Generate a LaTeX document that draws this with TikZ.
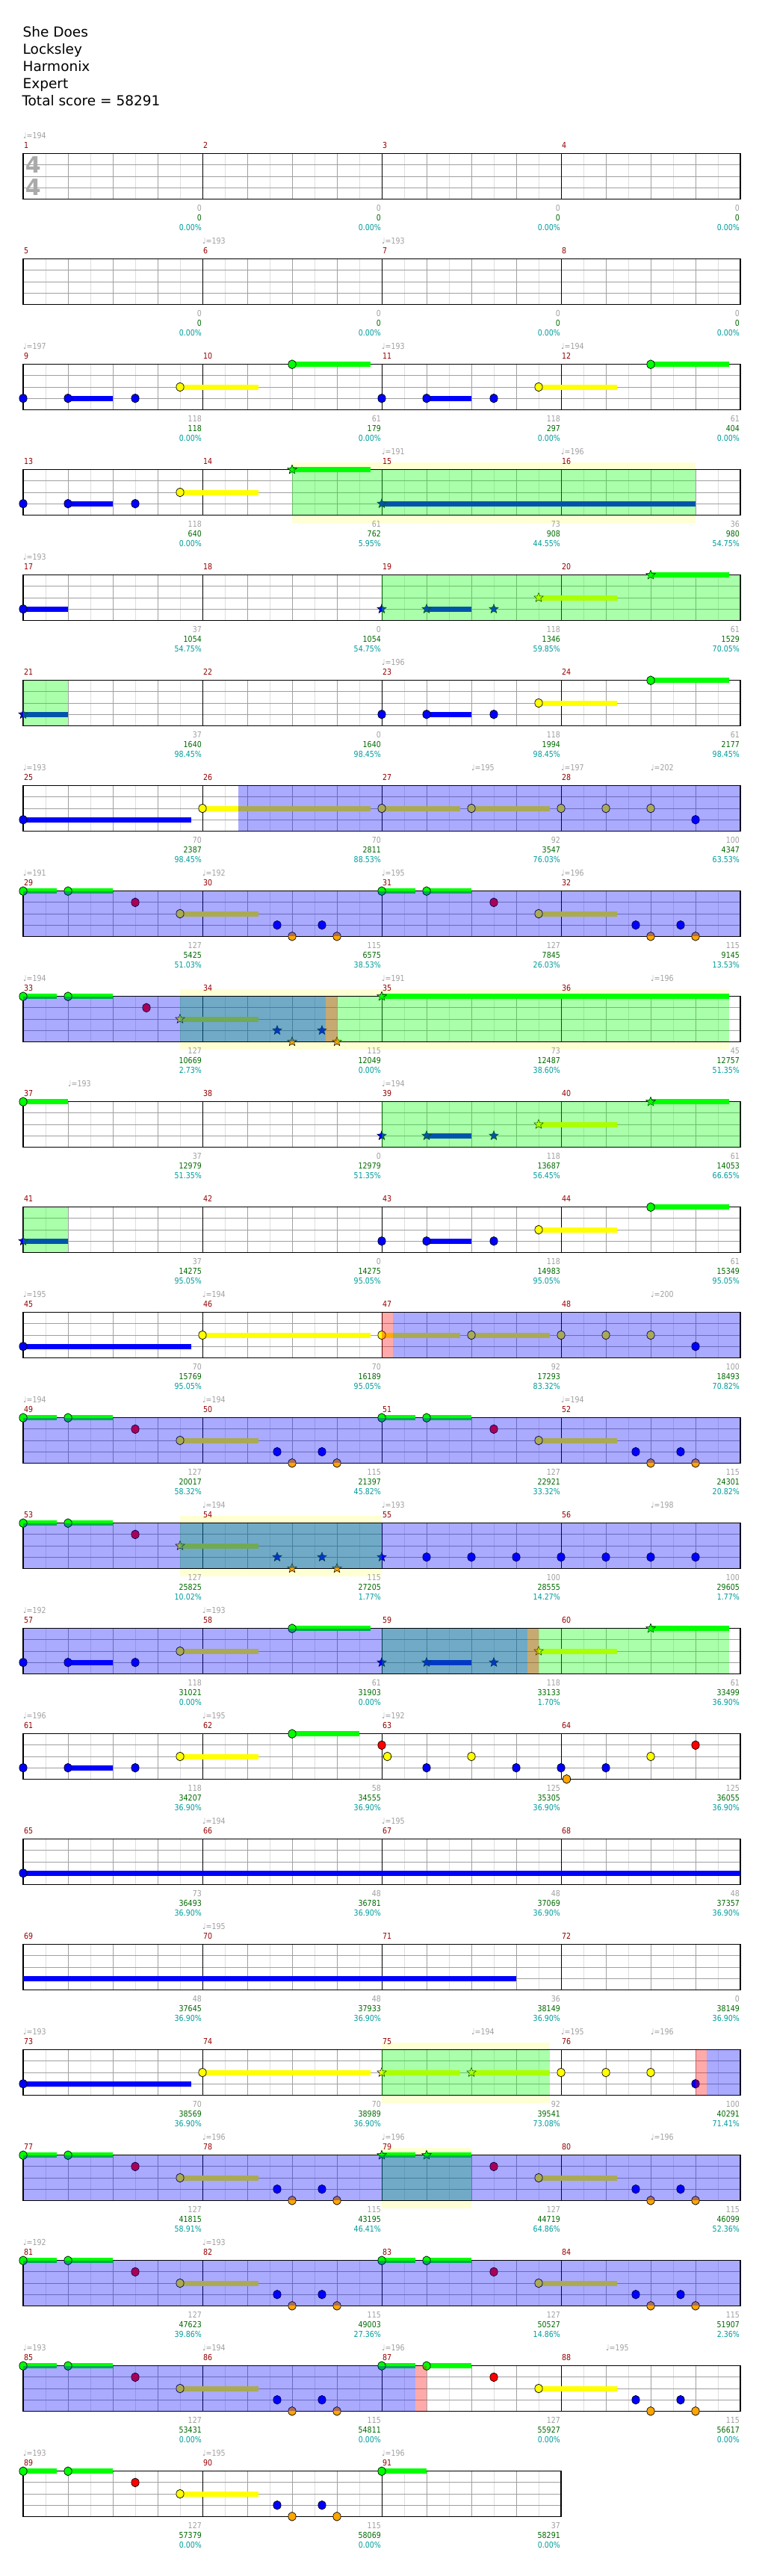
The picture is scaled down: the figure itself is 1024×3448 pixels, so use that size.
\documentclass[tikz,border=0pt]{standalone}
\usepackage{fontspec}
\setmainfont{DejaVu Sans}
\newfontfamily\lblfont{DejaVu Sans}[FakeStretch=0.86]
\usetikzlibrary{shapes.geometric}

\definecolor{barred}{RGB}{150,0,0}
\definecolor{lblgray}{RGB}{160,160,160}
\definecolor{lblgreen}{RGB}{0,105,0}
\definecolor{lblcyan}{RGB}{0,155,155}
\definecolor{gridgray}{RGB}{160,160,160}
\definecolor{gridlight}{RGB}{222,222,222}
\definecolor{hiyellow}{RGB}{255,255,212}
\definecolor{gemg}{RGB}{0,255,0}
\definecolor{gemr}{RGB}{255,0,0}
\definecolor{gemy}{RGB}{255,255,0}
\definecolor{gemb}{RGB}{0,0,255}
\definecolor{gemo}{RGB}{255,165,0}

% lanes: green, red, yellow, blue, orange
\def\laneg{0}\def\laner{1}\def\laney{2}\def\laneb{3}\def\laneo{4}
\newcounter{gemno}
\newcounter{bpmno}

% row r: staff top
\newcommand{\setrow}[1]{\def\rowno{#1}\pgfmathsetmacro{\rowtop}{205.7+141*#1}}
% staff of #1 bars, first bar number #2
\newcommand{\staff}[2]{%
  \pgfmathsetmacro{\staffw}{240*#1}%
  \pgfmathtruncatemacro{\lastq}{4*#1-1}%
  \pgfmathtruncatemacro{\lastbar}{#1-1}%
  \fill[white] (31,\rowtop) rectangle ++(\staffw,60.6);
  \foreach \e in {0,...,\lastq} \draw[eighthline] ({61+60*\e},\rowtop) -- ++(0,60.6);
  \foreach \k in {1,2,3} \draw[laneline] (31,{\rowtop+15.15*\k}) -- ++(\staffw,0);
  \foreach \e in {1,...,\lastq} \draw[beatline] ({31+60*\e},\rowtop) -- ++(0,60.6);
  \foreach \m in {1,...,\lastbar} \draw[barline] ({31+240*\m},\rowtop) -- ++(0,60.6);
  \draw[staffbox] (31,\rowtop) rectangle ++(\staffw,60.6);
  \foreach \m in {1,...,#1}{%
    \pgfmathtruncatemacro{\bn}{#2+\m-1}%
    \node[barno] (bar\bn) at ({31+240*(\m-1)},{\rowtop-7.7}) {\bn};}%
}
\newcommand{\gem}[2]{\stepcounter{gemno}%
  \pgfmathsetmacro{\gy}{\rowtop+15.15*\csname lane#1\endcsname}%
  \node[gem,fill=gem#1] (gem\arabic{gemno}) at ({31+30*(#2)},\gy) {};}
\newcommand{\sgem}[2]{\stepcounter{gemno}%
  \pgfmathsetmacro{\gy}{\rowtop+15.15*\csname lane#1\endcsname}%
  \node[stargem,fill=gem#1] (gem\arabic{gemno}) at ({31+30*(#2)},\gy) {};}
\newcommand{\sus}[3]{%
  \pgfmathsetmacro{\gy}{\rowtop+15.15*\csname lane#1\endcsname}%
  \fill[gem#1] ({31+30*(#2)},{\gy-3.5}) rectangle ({31+30*(#3)},{\gy+3.5});}
\newcommand{\od}[3]{\fill[#1,opacity=0.333] ({31+30*(#2)},\rowtop) rectangle ({31+30*(#3)},{\rowtop+60.6});}
\newcommand{\hilite}[2]{\fill[hiyellow] ({31+30*(#1)},{\rowtop-10}) rectangle ({31+30*(#2)},{\rowtop+71});}
\newcommand{\bpm}[2]{\stepcounter{bpmno}%
  \node[tempo] (bpm\arabic{bpmno}) at ({31+30*(#1)},{\rowtop-20.5}) {♩=#2};}
\newcommand{\pts}[4]{%
  \pgfmathtruncatemacro{\bn}{4*\rowno+#1}%
  \node[ptsgray] (pts\bn) at ({31+240*#1},{\rowtop+76.3}) {#2};
  \node[ptsgreen] (tot\bn) at ({31+240*#1},{\rowtop+89.6}) {#3};
  \node[ptscyan] (pct\bn) at ({31+240*#1},{\rowtop+102.7}) {#4\%};}

\begin{document}
\begin{tikzpicture}[x=1pt,y=-1pt,
    title/.style={anchor=base west,inner sep=0pt,font=\fontsize{18.5}{22}\selectfont},
    lbl/.style={inner sep=1pt,font=\lblfont\fontsize{11}{13}\selectfont},
    barno/.style={lbl,anchor=base west,text=barred},
    tempo/.style={lbl,anchor=base west,inner sep=0pt,text=lblgray},
    ptsgray/.style={lbl,anchor=base east,text=lblgray},
    ptsgreen/.style={lbl,anchor=base east,text=lblgreen},
    ptscyan/.style={lbl,anchor=base east,text=lblcyan},
    tsig/.style={inner sep=0pt,text=lblgray!90,font=\bfseries\fontsize{30}{30}\selectfont},
    eighthline/.style={gridlight,line width=1pt},
    beatline/.style={gridgray,line width=1pt},
    laneline/.style={gridgray,line width=1pt},
    barline/.style={black,line width=1pt},
    staffbox/.style={black,line width=1.3pt},
    gem/.style={ellipse,draw=black,line width=0.7pt,inner sep=0pt,
                minimum width=10.3pt,minimum height=11.7pt},
    stargem/.style={star,star points=5,star point ratio=2.3,draw=black,
                line width=0.5pt,inner sep=0pt,minimum size=13pt}]
\fill[white] (0,0) rectangle (1024,3448);
\useasboundingbox (0,0) rectangle (1024,3448);

\node[title] (song) at (30.5,49.3) {She Does};
\node[title] (artist) at (30.5,72.3) {Locksley};
\node[title] (charter) at (30.5,95.3) {Harmonix};
\node[title] (level) at (30.5,118.3) {Expert};
\node[title] (total) at (29.3,141.3) {Total score = 58291};

% bars 1-4
\setrow{0}
\staff{4}{1}
\bpm{0}{194}
\node[tsig] (tsigup) at (44.3,{\rowtop+15}) {4};
\node[tsig] (tsigdown) at (44.3,{\rowtop+45}) {4};
\pts{1}{0}{0}{0.00}\pts{2}{0}{0}{0.00}\pts{3}{0}{0}{0.00}\pts{4}{0}{0}{0.00}

% bars 5-8
\setrow{1}
\staff{4}{5}
\bpm{8}{193}\bpm{16}{193}
\pts{1}{0}{0}{0.00}\pts{2}{0}{0}{0.00}\pts{3}{0}{0}{0.00}\pts{4}{0}{0}{0.00}

% bars 9-12
\setrow{2}
\staff{4}{9}
\bpm{0}{197}\bpm{16}{193}\bpm{24}{194}
\sus{b}{2}{4}\sus{y}{7}{10.5}\sus{g}{12}{15.5}
\sus{b}{18}{20}\sus{y}{23}{26.5}\sus{g}{28}{31.5}
\gem{b}{0}\gem{b}{2}\gem{b}{5}\gem{y}{7}\gem{g}{12}
\gem{b}{16}\gem{b}{18}\gem{b}{21}\gem{y}{23}\gem{g}{28}
\pts{1}{118}{118}{0.00}\pts{2}{61}{179}{0.00}\pts{3}{118}{297}{0.00}\pts{4}{61}{404}{0.00}

% bars 13-16
\setrow{3}
\hilite{12}{30}
\staff{4}{13}
\bpm{16}{191}\bpm{24}{196}
\sus{b}{2}{4}\sus{y}{7}{10.5}\sus{g}{12}{15.5}\sus{b}{16}{30}
\gem{b}{0}\gem{b}{2}\gem{b}{5}\gem{y}{7}\sgem{g}{12}\sgem{b}{16}
\od{green}{12}{30}
\pts{1}{118}{640}{0.00}\pts{2}{61}{762}{5.95}\pts{3}{73}{908}{44.55}\pts{4}{36}{980}{54.75}

% bars 17-20
\setrow{4}
\staff{4}{17}
\bpm{0}{193}
\sus{b}{0}{2}\sus{b}{18}{20}\sus{y}{23}{26.5}\sus{g}{28}{31.5}
\gem{b}{0}\sgem{b}{16}\sgem{b}{18}\sgem{b}{21}\sgem{y}{23}\sgem{g}{28}
\od{green}{16}{32}
\pts{1}{37}{1054}{54.75}\pts{2}{0}{1054}{54.75}\pts{3}{118}{1346}{59.85}\pts{4}{61}{1529}{70.05}

% bars 21-24
\setrow{5}
\staff{4}{21}
\bpm{16}{196}
\sus{b}{0}{2}\sus{b}{18}{20}\sus{y}{23}{26.5}\sus{g}{28}{31.5}
\sgem{b}{0}\gem{b}{16}\gem{b}{18}\gem{b}{21}\gem{y}{23}\gem{g}{28}
\od{green}{0}{2}
\pts{1}{37}{1640}{98.45}\pts{2}{0}{1640}{98.45}\pts{3}{118}{1994}{98.45}\pts{4}{61}{2177}{98.45}

% bars 25-28
\setrow{6}
\staff{4}{25}
\bpm{0}{193}\bpm{20}{195}\bpm{24}{197}\bpm{28}{202}
\sus{b}{0}{7.5}\sus{y}{8}{15.5}\sus{y}{16}{19.5}\sus{y}{20}{23.5}
\gem{b}{0}\gem{y}{8}\gem{y}{16}\gem{y}{20}\gem{y}{24}\gem{y}{26}\gem{y}{28}\gem{b}{30}
\od{blue}{9.6}{32}
\pts{1}{70}{2387}{98.45}\pts{2}{70}{2811}{88.53}\pts{3}{92}{3547}{76.03}\pts{4}{100}{4347}{63.53}

% bars 29-32
\setrow{7}
\staff{4}{29}
\bpm{0}{191}\bpm{8}{192}\bpm{16}{195}\bpm{24}{196}
\sus{g}{0}{1.5}\sus{g}{2}{4}\sus{y}{7}{10.5}\sus{g}{16}{17.5}\sus{g}{18}{20}\sus{y}{23}{26.5}
\gem{g}{0}\gem{g}{2}\gem{r}{5}\gem{y}{7}\gem{b}{11.333}\gem{o}{12}\gem{b}{13.333}\gem{o}{14}
\gem{g}{16}\gem{g}{18}\gem{r}{21}\gem{y}{23}\gem{b}{27.333}\gem{o}{28}\gem{b}{29.333}\gem{o}{30}
\od{blue}{0}{32}
\pts{1}{127}{5425}{51.03}\pts{2}{115}{6575}{38.53}\pts{3}{127}{7845}{26.03}\pts{4}{115}{9145}{13.53}

% bars 33-36
\setrow{8}
\hilite{7}{31.5}
\staff{4}{33}
\bpm{0}{194}\bpm{16}{191}\bpm{28}{196}
\sus{g}{0}{1.5}\sus{g}{2}{4}\sus{y}{7}{10.5}\sus{g}{16}{31.5}
\gem{g}{0}\gem{g}{2}\gem{r}{5.5}\sgem{y}{7}\sgem{b}{11.333}\sgem{o}{12}\sgem{b}{13.333}\sgem{o}{14}
\sgem{g}{16}
\od{green}{7}{31.5}\od{blue}{0}{13.5}\od{red}{13.5}{14}
\pts{1}{127}{10669}{2.73}\pts{2}{115}{12049}{0.00}\pts{3}{73}{12487}{38.60}\pts{4}{45}{12757}{51.35}

% bars 37-40
\setrow{9}
\staff{4}{37}
\bpm{2}{193}\bpm{16}{194}
\sus{g}{0}{2}\sus{b}{18}{20}\sus{y}{23}{26.5}\sus{g}{28}{31.5}
\gem{g}{0}\sgem{b}{16}\sgem{b}{18}\sgem{b}{21}\sgem{y}{23}\sgem{g}{28}
\od{green}{16}{32}
\pts{1}{37}{12979}{51.35}\pts{2}{0}{12979}{51.35}\pts{3}{118}{13687}{56.45}\pts{4}{61}{14053}{66.65}

% bars 41-44
\setrow{10}
\staff{4}{41}
\sus{b}{0}{2}\sus{b}{18}{20}\sus{y}{23}{26.5}\sus{g}{28}{31.5}
\sgem{b}{0}\gem{b}{16}\gem{b}{18}\gem{b}{21}\gem{y}{23}\gem{g}{28}
\od{green}{0}{2}
\pts{1}{37}{14275}{95.05}\pts{2}{0}{14275}{95.05}\pts{3}{118}{14983}{95.05}\pts{4}{61}{15349}{95.05}

% bars 45-48
\setrow{11}
\staff{4}{45}
\bpm{0}{195}\bpm{8}{194}\bpm{28}{200}
\sus{b}{0}{7.5}\sus{y}{8}{15.5}\sus{y}{16}{19.5}\sus{y}{20}{23.5}
\gem{b}{0}\gem{y}{8}\gem{y}{16}\gem{y}{20}\gem{y}{24}\gem{y}{26}\gem{y}{28}\gem{b}{30}
\od{red}{16}{16.5}\od{blue}{16.5}{32}
\pts{1}{70}{15769}{95.05}\pts{2}{70}{16189}{95.05}\pts{3}{92}{17293}{83.32}\pts{4}{100}{18493}{70.82}

% bars 49-52
\setrow{12}
\staff{4}{49}
\bpm{0}{194}\bpm{8}{194}\bpm{24}{194}
\sus{g}{0}{1.5}\sus{g}{2}{4}\sus{y}{7}{10.5}\sus{g}{16}{17.5}\sus{g}{18}{20}\sus{y}{23}{26.5}
\gem{g}{0}\gem{g}{2}\gem{r}{5}\gem{y}{7}\gem{b}{11.333}\gem{o}{12}\gem{b}{13.333}\gem{o}{14}
\gem{g}{16}\gem{g}{18}\gem{r}{21}\gem{y}{23}\gem{b}{27.333}\gem{o}{28}\gem{b}{29.333}\gem{o}{30}
\od{blue}{0}{32}
\pts{1}{127}{20017}{58.32}\pts{2}{115}{21397}{45.82}\pts{3}{127}{22921}{33.32}\pts{4}{115}{24301}{20.82}

% bars 53-56
\setrow{13}
\hilite{7}{16}
\staff{4}{53}
\bpm{8}{194}\bpm{16}{193}\bpm{28}{198}
\sus{g}{0}{1.5}\sus{g}{2}{4}\sus{y}{7}{10.5}
\gem{g}{0}\gem{g}{2}\gem{r}{5}\sgem{y}{7}\sgem{b}{11.333}\sgem{o}{12}\sgem{b}{13.333}\sgem{o}{14}
\sgem{b}{16}\gem{b}{18}\gem{b}{20}\gem{b}{22}\gem{b}{24}\gem{b}{26}\gem{b}{28}\gem{b}{30}
\od{green}{7}{16}\od{blue}{0}{32}
\pts{1}{127}{25825}{10.02}\pts{2}{115}{27205}{1.77}\pts{3}{100}{28555}{14.27}\pts{4}{100}{29605}{1.77}

% bars 57-60
\setrow{14}
\staff{4}{57}
\bpm{0}{192}\bpm{8}{193}
\sus{b}{2}{4}\sus{y}{7}{10.5}\sus{g}{12}{15.5}\sus{b}{18}{20}\sus{y}{23}{26.5}\sus{g}{28}{31.5}
\gem{b}{0}\gem{b}{2}\gem{b}{5}\gem{y}{7}\gem{g}{12}
\sgem{b}{16}\sgem{b}{18}\sgem{b}{21}\sgem{y}{23}\sgem{g}{28}
\od{green}{16}{31.5}\od{blue}{0}{22.5}\od{red}{22.5}{23}
\pts{1}{118}{31021}{0.00}\pts{2}{61}{31903}{0.00}\pts{3}{118}{33133}{1.70}\pts{4}{61}{33499}{36.90}

% bars 61-64
\setrow{15}
\staff{4}{61}
\bpm{0}{196}\bpm{8}{195}\bpm{16}{192}
\sus{b}{2}{4}\sus{y}{7}{10.5}\sus{g}{12}{15}
\gem{b}{0}\gem{b}{2}\gem{b}{5}\gem{y}{7}\gem{g}{12}
\gem{r}{16}\gem{y}{16.25}\gem{b}{18}\gem{y}{20}\gem{b}{22}\gem{b}{24}\gem{o}{24.25}
\gem{b}{26}\gem{y}{28}\gem{r}{30}
\pts{1}{118}{34207}{36.90}\pts{2}{58}{34555}{36.90}\pts{3}{125}{35305}{36.90}\pts{4}{125}{36055}{36.90}

% bars 65-68
\setrow{16}
\staff{4}{65}
\bpm{8}{194}\bpm{16}{195}
\sus{b}{0}{32}
\gem{b}{0}
\pts{1}{73}{36493}{36.90}\pts{2}{48}{36781}{36.90}\pts{3}{48}{37069}{36.90}\pts{4}{48}{37357}{36.90}

% bars 69-72
\setrow{17}
\staff{4}{69}
\bpm{8}{195}
\sus{b}{0}{22}
\pts{1}{48}{37645}{36.90}\pts{2}{48}{37933}{36.90}\pts{3}{36}{38149}{36.90}\pts{4}{0}{38149}{36.90}

% bars 73-76
\setrow{18}
\hilite{16}{23.5}
\staff{4}{73}
\bpm{0}{193}\bpm{20}{194}\bpm{24}{195}\bpm{28}{196}
\sus{b}{0}{7.5}\sus{y}{8}{15.5}\sus{y}{16}{19.5}\sus{y}{20}{23.5}
\gem{b}{0}\gem{y}{8}\sgem{y}{16}\sgem{y}{20}\gem{y}{24}\gem{y}{26}\gem{y}{28}\gem{b}{30}
\od{green}{16}{23.5}\od{red}{30}{30.5}\od{blue}{30.5}{32}
\pts{1}{70}{38569}{36.90}\pts{2}{70}{38989}{36.90}\pts{3}{92}{39541}{73.08}\pts{4}{100}{40291}{71.41}

% bars 77-80
\setrow{19}
\hilite{16}{20}
\staff{4}{77}
\bpm{8}{196}\bpm{16}{196}\bpm{28}{196}
\sus{g}{0}{1.5}\sus{g}{2}{4}\sus{y}{7}{10.5}\sus{g}{16}{17.5}\sus{g}{18}{20}\sus{y}{23}{26.5}
\gem{g}{0}\gem{g}{2}\gem{r}{5}\gem{y}{7}\gem{b}{11.333}\gem{o}{12}\gem{b}{13.333}\gem{o}{14}
\sgem{g}{16}\sgem{g}{18}\gem{r}{21}\gem{y}{23}\gem{b}{27.333}\gem{o}{28}\gem{b}{29.333}\gem{o}{30}
\od{green}{16}{20}\od{blue}{0}{32}
\pts{1}{127}{41815}{58.91}\pts{2}{115}{43195}{46.41}\pts{3}{127}{44719}{64.86}\pts{4}{115}{46099}{52.36}

% bars 81-84
\setrow{20}
\staff{4}{81}
\bpm{0}{192}\bpm{8}{193}
\sus{g}{0}{1.5}\sus{g}{2}{4}\sus{y}{7}{10.5}\sus{g}{16}{17.5}\sus{g}{18}{20}\sus{y}{23}{26.5}
\gem{g}{0}\gem{g}{2}\gem{r}{5}\gem{y}{7}\gem{b}{11.333}\gem{o}{12}\gem{b}{13.333}\gem{o}{14}
\gem{g}{16}\gem{g}{18}\gem{r}{21}\gem{y}{23}\gem{b}{27.333}\gem{o}{28}\gem{b}{29.333}\gem{o}{30}
\od{blue}{0}{32}
\pts{1}{127}{47623}{39.86}\pts{2}{115}{49003}{27.36}\pts{3}{127}{50527}{14.86}\pts{4}{115}{51907}{2.36}

% bars 85-88
\setrow{21}
\staff{4}{85}
\bpm{0}{193}\bpm{8}{194}\bpm{16}{196}\bpm{26}{195}
\sus{g}{0}{1.5}\sus{g}{2}{4}\sus{y}{7}{10.5}\sus{g}{16}{17.5}\sus{g}{18}{20}\sus{y}{23}{26.5}
\gem{g}{0}\gem{g}{2}\gem{r}{5}\gem{y}{7}\gem{b}{11.333}\gem{o}{12}\gem{b}{13.333}\gem{o}{14}
\gem{g}{16}\gem{g}{18}\gem{r}{21}\gem{y}{23}\gem{b}{27.333}\gem{o}{28}\gem{b}{29.333}\gem{o}{30}
\od{blue}{0}{17.5}\od{red}{17.5}{18}
\pts{1}{127}{53431}{0.00}\pts{2}{115}{54811}{0.00}\pts{3}{127}{55927}{0.00}\pts{4}{115}{56617}{0.00}

% bars 89-91
\setrow{22}
\staff{3}{89}
\bpm{0}{193}\bpm{8}{195}\bpm{16}{196}
\sus{g}{0}{1.5}\sus{g}{2}{4}\sus{y}{7}{10.5}\sus{g}{16}{18}
\gem{g}{0}\gem{g}{2}\gem{r}{5}\gem{y}{7}\gem{b}{11.333}\gem{o}{12}\gem{b}{13.333}\gem{o}{14}
\gem{g}{16}
\pts{1}{127}{57379}{0.00}\pts{2}{115}{58069}{0.00}\pts{3}{37}{58291}{0.00}
\end{tikzpicture}
\end{document}
